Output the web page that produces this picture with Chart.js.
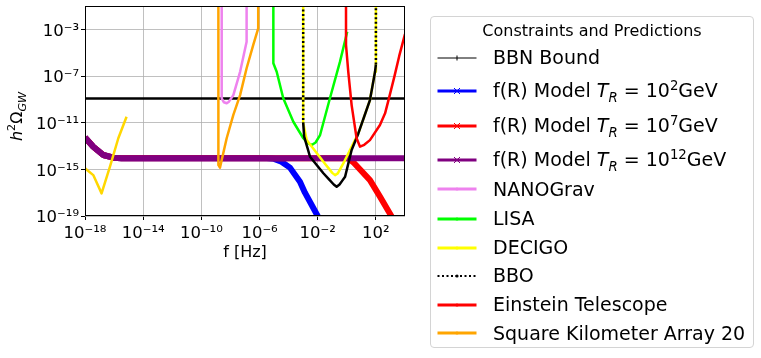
<!DOCTYPE html>
<html>
<head>
<meta charset="utf-8">
<script src="https://cdn.jsdelivr.net/npm/chart.js@4.4.0/dist/chart.umd.min.js"></script>
<style>
  html, body { margin: 0; padding: 0; background: #fff; }
  body { width: 761px; height: 358px; position: relative; overflow: hidden; font-family: "DejaVu Sans", sans-serif; }
  #chart { position: absolute; left: 0; top: 0; }
  #legend { position: absolute; left: 430px; top: 16px; width: 324px; height: 332px; border: 1px solid #d4d4d4; border-radius: 4px; box-sizing: border-box; background: #fff; }
  .leg-title { position: absolute; left: 0; right: 0; text-align: center; font-size: 16px; line-height: 16px; white-space: nowrap; }
  .leg-handle { position: absolute; left: 6px; }
  .leg-text { position: absolute; left: 62px; font-size: 19px; line-height: 19px; white-space: nowrap; }
  .leg-text sub, .leg-text sup { font-size: 0.7em; line-height: 0; }
  .leg-text sub { font-style: italic; }
</style>
</head>
<body>
<canvas id="chart" width="761" height="358"></canvas>
<div id="legend"></div>
<script>
// axis ticks
const xTicks = [1e-18, 1e-14, 1e-10, 1e-6, 1e-2, 1e2];
const yTicks = [1e-19, 1e-15, 1e-11, 1e-7, 1e-3];

// series: frequency [Hz] and h^2 Omega_GW
const bbnFreq = [1e-18, 1e4];
const bbnOmega = [1.2e-9, 1.2e-9];

const fr2Freq = [1e-18, 3.7e-18, 1.8e-17, 8.9e-17, 3.2e-16, 3.2e-6, 1e-5, 3.2e-5, 1.23e-4, 6e-4, 1.32e-3, 9.3e-3, 3.2e-2];
const fr2Omega = [5.4e-13, 8.7e-14, 1.7e-14, 1e-14, 8.9e-15, 8.9e-15, 7.9e-15, 4.5e-15, 1.4e-15, 8.7e-17, 1e-17, 1.15e-19, 6.3e-21];

const fr7Freq = [1e-18, 3.7e-18, 1.8e-17, 8.9e-17, 3.2e-16, 1.26, 2.8, 38.9, 190, 1070, 3160];
const fr7Omega = [5.4e-13, 8.7e-14, 1.7e-14, 1e-14, 8.9e-15, 8.9e-15, 4e-15, 1.2e-16, 4.6e-18, 1.15e-19, 1e-20];

const fr12Freq = [1e-18, 3.7e-18, 1.8e-17, 8.9e-17, 3.2e-16, 1e4];
const fr12Omega = [5.4e-13, 8.7e-14, 1.7e-14, 1e-14, 8.9e-15, 8.9e-15];

const nanoFreq = [2.5e-9, 2.5e-9, 3.55e-9, 5.5e-9, 7.9e-9, 1.58e-8, 4.6e-8, 1.29e-7, 1.29e-7];
const nanoOmega = [10, 1.23e-9, 5.6e-10, 4.6e-10, 6.3e-10, 2.3e-9, 2.3e-7, 8.7e-5, 10];

const lisaFreq = [8.9e-6, 8.9e-6, 1.51e-5, 4.27e-5, 2.1e-4, 1.02e-3, 2e-3, 3.9e-3, 7.1e-3, 1.45e-2, 6.9e-2, 0.34, 1.07];
const lisaOmega = [10, 1.23e-6, 2.3e-7, 1.23e-9, 1.2e-11, 4.6e-13, 1.8e-13, 1.23e-13, 2e-13, 8.7e-13, 1.23e-9, 1.7e-6, 6.3e-4];

const decigoFreq = [1e-3, 1e-3, 1.74e-3, 2.45e-2, 0.1, 0.155, 0.24, 0.575, 2.8, 6.2, 38.9, 87, 100, 100];
const decigoOmega = [10, 1e-11, 3.2e-13, 4.5e-15, 5e-16, 3.2e-16, 4.5e-16, 3.2e-15, 1.7e-13, 1.2e-12, 8.7e-10, 2.3e-7, 1e-6, 10];

const bboFreq = [1e-3, 1e-3, 1.17e-3, 2.95e-3, 2.45e-2, 0.126, 0.2, 0.316, 0.76, 2.14, 6.2, 38.9, 87, 100, 100];
const bboOmega = [10, 1e-11, 6.3e-13, 1.2e-14, 4.6e-16, 5e-17, 3.2e-17, 5e-17, 2.3e-16, 4.6e-14, 1.2e-12, 8.7e-10, 2.3e-7, 1e-6, 10];

const etFreq = [0.88, 0.88, 1.26, 2.14, 4.7, 8.1, 15.8, 38.9, 190, 427, 794, 1860, 3980, 1e4];
const etOmega = [10, 4.6e-5, 2.3e-7, 3.2e-10, 4.6e-13, 8.7e-14, 1.26e-13, 3.2e-13, 6.3e-12, 6.3e-11, 1.26e-9, 8.9e-8, 5e-6, 4e-4];

const skaFreq = [1.48e-9, 1.48e-9, 1.9e-9, 5.5e-9, 1.58e-8, 4.6e-8, 1.29e-7, 3.7e-7, 8.1e-7, 8.1e-7];
const skaOmega = [10, 2.3e-15, 1.4e-15, 4.6e-13, 4.6e-11, 2.3e-9, 4.6e-7, 4.6e-5, 1.23e-3, 10];

// unlabeled curve at the far left
const lowFreq = [1e-18, 3.7e-18, 1.38e-17, 5.2e-17, 1.95e-16, 7.2e-16];
const lowOmega = [1.23e-15, 3.2e-16, 8.7e-18, 1.7e-15, 4.6e-13, 3.2e-11];

const legendTitle = 'Constraints and Predictions';

const series = [
    { label: 'BBN Bound', freq: bbnFreq, omega: bbnOmega, color: '#000000', width: 2.5, legWidth: 1, marker: 'plus' },
    { label: 'f(R) Model <i>T</i><sub>R</sub> = 10<sup>2</sup>GeV', freq: fr2Freq, omega: fr2Omega, color: '#0000ff', width: 6, legWidth: 3, marker: 'x' },
    { label: 'f(R) Model <i>T</i><sub>R</sub> = 10<sup>7</sup>GeV', freq: fr7Freq, omega: fr7Omega, color: '#ff0000', width: 6, legWidth: 3, marker: 'x' },
    { label: 'f(R) Model <i>T</i><sub>R</sub> = 10<sup>12</sup>GeV', freq: fr12Freq, omega: fr12Omega, color: '#800080', width: 6, legWidth: 3, marker: 'x' },
    { label: 'NANOGrav', freq: nanoFreq, omega: nanoOmega, color: '#ee82ee', width: 2.5, legWidth: 3, marker: 'dot' },
    { label: 'LISA', freq: lisaFreq, omega: lisaOmega, color: '#00ff00', width: 2.5, legWidth: 3, marker: 'dot' },
    { label: 'DECIGO', freq: decigoFreq, omega: decigoOmega, color: '#ffff00', width: 2.5, legWidth: 3, marker: 'dot' },
    { label: 'BBO', freq: bboFreq, omega: bboOmega, color: '#000000', width: 2.5, legWidth: 2, marker: 'dot', dotted: true },
    { label: 'Einstein Telescope', freq: etFreq, omega: etOmega, color: '#ff0000', width: 2.5, legWidth: 3, marker: 'dot' },
    { label: 'Square Kilometer Array 20', freq: skaFreq, omega: skaOmega, color: '#ffa500', width: 2.5, legWidth: 3, marker: 'dot' },
    { label: null, freq: lowFreq, omega: lowOmega, color: '#ffd700', width: 2.5 }
];

const SUP = { '-': '\u207b', '0': '\u2070', '1': '\u00b9', '2': '\u00b2', '3': '\u00b3', '4': '\u2074', '5': '\u2075', '6': '\u2076', '7': '\u2077', '8': '\u2078', '9': '\u2079' };
function powLabel(v) {
    const e = Math.round(Math.log10(v));
    return '10' + String(e).split('').map(c => SUP[c]).join('');
}

const datasets = series.map((s, i) => ({
    label: s.label || '',
    data: s.freq.map((f, j) => ({ x: f, y: s.omega[j] })),
    borderColor: s.color,
    backgroundColor: s.color,
    borderWidth: s.width,
    pointRadius: 0,
    pointHoverRadius: 0,
    fill: false,
    // tiny tension on the dotted series keeps Chart.js off its fast path,
    // which otherwise retraces vertical runs and hides the dots
    tension: s.dotted ? 1e-6 : 0,
    clip: 0,
    borderJoinStyle: 'round',
    order: series.length - i,
    segment: s.dotted ? { borderDash: ctx => Math.abs(ctx.p0.x - ctx.p1.x) < 0.5 ? [2, 2.5] : undefined } : undefined
}));

function drawYTitle(ctx, cx, cy) {
    const big = 16, small = 11.2;
    const parts = [
        { t: 'h', font: `italic ${big}px "DejaVu Sans"`, dy: 0 },
        { t: '2', font: `${small}px "DejaVu Sans"`, dy: -0.42 * big },
        { t: '\u03a9', font: `${big}px "DejaVu Sans"`, dy: 0 },
        { t: 'GW', font: `italic ${small}px "DejaVu Sans"`, dy: 0.22 * big }
    ];
    ctx.save();
    ctx.translate(cx, cy);
    ctx.rotate(-Math.PI / 2);
    let total = 0;
    parts.forEach(p => { ctx.font = p.font; p.w = ctx.measureText(p.t).width; total += p.w; });
    let x = -total / 2;
    ctx.fillStyle = '#000';
    ctx.textBaseline = 'alphabetic';
    ctx.textAlign = 'left';
    parts.forEach(p => { ctx.font = p.font; ctx.fillText(p.t, x, p.dy); x += p.w; });
    ctx.restore();
}

const framePlugin = {
    id: 'frame',
    afterDraw(chart) {
        const { ctx, chartArea: a } = chart;
        ctx.save();
        ctx.strokeStyle = '#000';
        ctx.lineWidth = 1;
        ctx.strokeRect(a.left + 0.5, a.top + 0.5, a.right - a.left - 1, a.bottom - a.top - 1);
        ctx.fillStyle = '#000';
        ctx.font = '16px "DejaVu Sans"';
        ctx.textAlign = 'center';
        ctx.textBaseline = 'alphabetic';
        ctx.fillText('f [Hz]', (a.left + a.right) / 2, 257);
        ctx.restore();
        drawYTitle(ctx, 22, 116.5);
    }
};

const tickFont = { family: '"DejaVu Sans"', size: 16.5 };

new Chart(document.getElementById('chart').getContext('2d'), {
    type: 'line',
    data: { datasets },
    options: {
        responsive: false,
        animation: false,
        events: [],
        layout: { padding: { left: 0, top: 6, right: 356, bottom: 0 } },
        scales: {
            x: {
                type: 'logarithmic',
                min: 1e-18, max: 1e4,
                afterBuildTicks: scale => { scale.ticks = xTicks.map(v => ({ value: v })); },
                afterFit: scale => { scale.height = 142; scale.paddingLeft = 0; scale.paddingRight = 0; },
                ticks: { callback: v => powLabel(v), font: tickFont, color: '#000', maxRotation: 0, autoSkip: false, padding: 4 },
                grid: { color: '#b0b0b0', lineWidth: 0.8, tickLength: 4, tickColor: '#000', tickWidth: 1 },
                border: { display: false }
            },
            y: {
                type: 'logarithmic',
                min: 1e-19, max: 1e-1,
                afterBuildTicks: scale => { scale.ticks = yTicks.map(v => ({ value: v })); },
                afterFit: scale => { scale.width = 85; scale.paddingTop = 0; scale.paddingBottom = 0; },
                ticks: { callback: v => powLabel(v), font: tickFont, color: '#000', padding: 2, labelOffset: 2 },
                grid: { color: '#b0b0b0', lineWidth: 0.8, tickLength: 4, tickColor: '#000', tickWidth: 1 },
                border: { display: false }
            }
        },
        plugins: { legend: { display: false }, tooltip: { enabled: false } }
    },
    plugins: [framePlugin]
});

// legend built from the series
const legendRowY = [39.7, 73, 108, 142, 171.3, 200.7, 229.7, 258, 287, 315.3];
function handleSvg(s) {
    const dash = s.dotted ? ' stroke-dasharray="2 2.5"' : '';
    let marker = '';
    if (s.marker === 'x') marker = `<path d="M17 4 L23 10 M23 4 L17 10" stroke="${s.color}" stroke-width="1"/>`;
    else if (s.marker === 'plus') marker = `<path d="M20 4.5 L20 9.5" stroke="${s.color}" stroke-width="1"/>`;
    else if (s.marker === 'dot') marker = `<circle cx="20" cy="7" r="1.6" fill="${s.color}"/>`;
    return `<svg width="40" height="14" viewBox="0 0 40 14"><line x1="0.5" y1="7" x2="39.5" y2="7" stroke="${s.color}" stroke-width="${s.legWidth}"${dash}/>${marker}</svg>`;
}
const legendEl = document.getElementById('legend');
let html = `<div class="leg-title" style="top:5.5px">${legendTitle}</div>`;
series.filter(s => s.label).forEach((s, i) => {
    const cy = legendRowY[i];
    html += `<div class="leg-handle" style="top:${cy - 7}px">${handleSvg(s)}</div>`;
    html += `<div class="leg-text" style="top:${cy - 8.6}px">${s.label}</div>`;
});
legendEl.innerHTML = html;
</script>
</body>
</html>
